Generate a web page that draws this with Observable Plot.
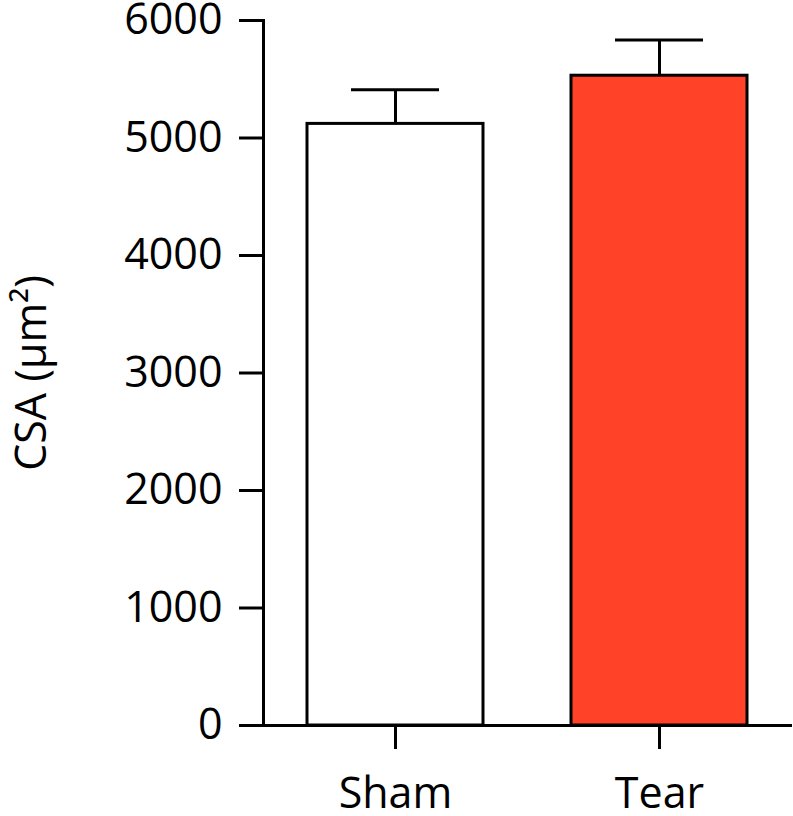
<!DOCTYPE html>
<html>
<head>
<meta charset="utf-8">
<script src="https://cdn.jsdelivr.net/npm/d3@7"></script>
<script src="https://cdn.jsdelivr.net/npm/@observablehq/plot@0.6"></script>
<style>
  html, body { margin: 0; padding: 0; background: #fff; }
</style>
</head>
<body>
<div id="chart"></div>
<script>
const groups = ["Sham", "Tear"];
const means = [5120, 5530];
const sems = [290, 305];
const fills = ["#ffffff", "#ff4228"];
const yTicks = [0, 1000, 2000, 3000, 4000, 5000, 6000];

const data = groups.map((g, i) => ({group: g, mean: means[i], sem: sems[i], fill: fills[i]}));

const font = "'Open Sans', sans-serif";

const chart = Plot.plot({
  width: 793,
  height: 816,
  marginLeft: 263,
  marginRight: 1,
  marginTop: 20,
  marginBottom: 91,
  style: {fontFamily: font, fontSize: "43px", color: "#000", background: "#fff"},
  x: {domain: groups, paddingInner: 0.332, paddingOuter: 0.166},
  y: {domain: [0, 6000]},
  marks: [
    Plot.ruleX(data, {x: "group", y1: "mean", y2: d => d.mean + d.sem, stroke: "#000", strokeWidth: 3}),
    Plot.tickY(data, {x: "group", y: d => d.mean + d.sem, stroke: "#000", strokeWidth: 3, insetLeft: 44, insetRight: 44}),
    Plot.barY(data, {x: "group", y: "mean", fill: "fill", stroke: "#000", strokeWidth: 3}),
    Plot.frame({anchor: "left", stroke: "#000", strokeWidth: 3}),
    Plot.ruleY([0], {stroke: "#000", strokeWidth: 3, insetLeft: -24}),
    Plot.axisY({ticks: yTicks, tickFormat: d => String(d), tickSize: 24, tickPadding: 17, strokeWidth: 3, fontSize: 43,
      label: "CSA (μm²)", labelAnchor: "center", labelArrow: "none", labelOffset: 248}),
    Plot.axisX({tickSize: 24, tickPadding: 28, strokeWidth: 3, fontSize: 43, label: null})
  ]
});
document.getElementById("chart").appendChild(chart);
</script>
</body>
</html>
